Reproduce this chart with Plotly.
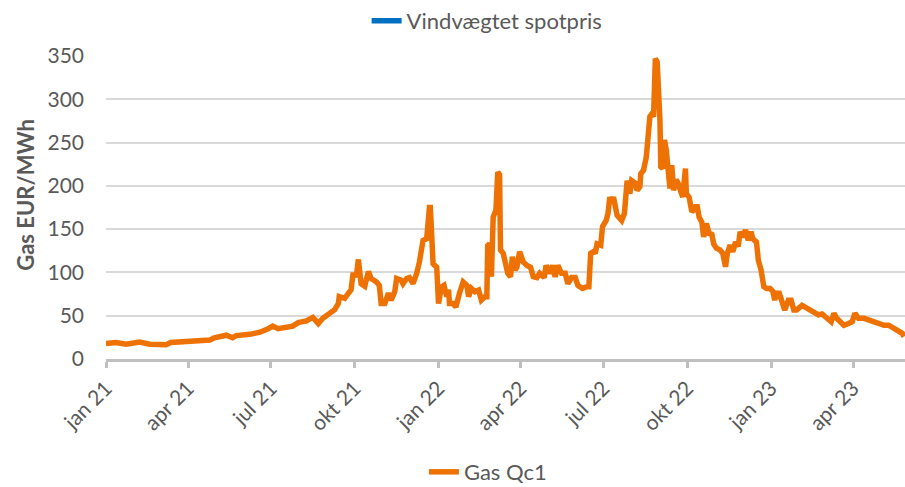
import plotly.graph_objects as go

# Gas Qc1 (EUR/MWh)
dates = [
    "2021-01-01", "2021-01-12", "2021-01-23", "2021-02-07", "2021-02-18", "2021-03-01",
    "2021-03-08", "2021-03-13", "2021-04-01", "2021-04-14", "2021-04-25", "2021-04-30",
    "2021-05-13", "2021-05-20", "2021-05-24", "2021-06-08", "2021-06-19", "2021-06-28",
    "2021-07-03", "2021-07-09", "2021-07-18", "2021-07-25", "2021-07-31", "2021-08-09",
    "2021-08-16", "2021-08-22", "2021-08-27", "2021-09-03", "2021-09-09", "2021-09-13",
    "2021-09-14", "2021-09-20", "2021-09-24", "2021-09-27", "2021-09-29", "2021-10-03",
    "2021-10-05", "2021-10-08", "2021-10-12", "2021-10-16", "2021-10-19", "2021-10-25",
    "2021-10-28", "2021-10-30", "2021-11-03", "2021-11-07", "2021-11-10", "2021-11-14",
    "2021-11-16", "2021-11-21", "2021-11-23", "2021-11-27", "2021-11-30", "2021-12-04",
    "2021-12-08", "2021-12-11", "2021-12-15", "2021-12-19", "2021-12-22", "2021-12-23",
    "2021-12-26", "2021-12-30",
    "2022-01-01", "2022-01-04", "2022-01-07", "2022-01-10", "2022-01-12", "2022-01-13",
    "2022-01-17", "2022-01-20", "2022-01-24", "2022-01-28", "2022-02-01", "2022-02-03",
    "2022-02-06", "2022-02-10", "2022-02-14", "2022-02-17", "2022-02-21", "2022-02-23",
    "2022-02-24", "2022-02-26", "2022-02-28", "2022-03-02", "2022-03-05", "2022-03-07",
    "2022-03-09", "2022-03-10", "2022-03-13", "2022-03-16", "2022-03-18", "2022-03-21",
    "2022-03-23", "2022-03-26", "2022-03-28", "2022-03-31", "2022-04-04", "2022-04-08",
    "2022-04-12", "2022-04-15", "2022-04-19", "2022-04-22", "2022-04-27", "2022-04-29",
    "2022-05-03", "2022-05-06", "2022-05-09", "2022-05-12", "2022-05-16", "2022-05-20",
    "2022-05-23", "2022-05-27", "2022-05-31", "2022-06-03", "2022-06-08", "2022-06-13",
    "2022-06-15", "2022-06-17", "2022-06-20", "2022-06-22", "2022-06-24", "2022-06-28",
    "2022-06-30", "2022-07-04", "2022-07-06", "2022-07-08", "2022-07-10", "2022-07-12",
    "2022-07-14", "2022-07-16", "2022-07-21", "2022-07-24", "2022-07-27", "2022-07-30",
    "2022-08-01", "2022-08-05", "2022-08-07", "2022-08-10", "2022-08-11", "2022-08-14",
    "2022-08-17", "2022-08-19", "2022-08-21", "2022-08-23", "2022-08-25", "2022-08-27",
    "2022-08-29", "2022-09-01", "2022-09-02", "2022-09-04", "2022-09-06", "2022-09-08",
    "2022-09-10", "2022-09-12", "2022-09-14", "2022-09-16", "2022-09-19", "2022-09-21",
    "2022-09-24", "2022-09-26", "2022-09-29", "2022-09-30", "2022-10-03", "2022-10-06",
    "2022-10-08", "2022-10-10", "2022-10-12", "2022-10-14", "2022-10-17", "2022-10-19",
    "2022-10-22", "2022-10-25", "2022-10-28", "2022-10-30", "2022-11-02", "2022-11-06",
    "2022-11-09", "2022-11-12", "2022-11-14", "2022-11-17", "2022-11-20", "2022-11-23",
    "2022-11-26", "2022-11-28", "2022-12-01", "2022-12-04", "2022-12-07", "2022-12-10",
    "2022-12-12", "2022-12-16", "2022-12-18", "2022-12-21", "2022-12-24", "2022-12-27",
    "2022-12-31",
    "2023-01-03", "2023-01-05", "2023-01-07", "2023-01-10", "2023-01-13", "2023-01-16",
    "2023-01-20", "2023-01-23", "2023-01-26", "2023-01-29", "2023-02-04", "2023-02-07",
    "2023-02-11", "2023-02-16", "2023-02-22", "2023-02-26", "2023-03-03", "2023-03-08",
    "2023-03-11", "2023-03-14", "2023-03-18", "2023-03-22", "2023-03-27", "2023-03-31",
    "2023-04-03", "2023-04-07", "2023-04-13", "2023-04-18", "2023-04-24", "2023-04-29",
    "2023-05-05", "2023-05-10", "2023-05-16", "2023-05-21", "2023-05-25", "2023-05-27",
]
gas_qc1 = [
    18, 19, 17, 19.5, 17, 16,
    16.5, 19, 20, 21, 22, 24.5,
    27.5, 24.5, 27, 28.5, 31, 35,
    38, 35, 36.5, 38, 42, 44,
    48, 41, 47, 52, 57, 64,
    72, 70, 76, 80, 97, 97,
    115, 87, 84, 101, 93, 89,
    85, 64, 64, 76, 68, 78,
    93, 91, 87, 93, 94, 87,
    99, 112, 137, 139, 175, 175,
    110, 106,
    64, 83, 85, 72, 80, 64,
    64, 60, 76, 89, 85, 72,
    81.5, 77.7, 79.6, 68, 72, 72,
    131, 133, 95, 164, 172, 216,
    213, 126, 122, 103, 99, 95,
    118, 103, 106, 124, 112, 108,
    106, 95, 94, 99, 94, 108,
    99, 108, 95, 108, 99, 99,
    87, 94, 94, 85, 81.5, 83.5,
    83.5, 122, 124, 122, 133, 131.5,
    153, 160, 168, 187, 180, 187,
    172, 166, 160, 168, 206, 191,
    206, 203, 195, 199, 214, 218,
    233, 253, 280, 283, 280, 347,
    343, 276, 222, 220, 253, 241,
    207, 197, 224, 195, 207, 203,
    193, 187, 220, 191, 187, 170,
    172, 176, 176, 164, 158, 141,
    156.5, 145, 144, 133, 128, 126,
    122, 106.5, 122, 131.5, 124, 135,
    130, 147, 141, 149, 137, 147,
    139, 135, 114, 103, 83.5, 81.5,
    81.5,
    78, 68, 76, 76, 64, 56.5,
    68, 68, 56.5, 56.5, 62, 60,
    56.5, 54.6, 51, 52, 47, 43,
    52.7, 47, 43, 39, 41, 43,
    52.7, 47, 47, 45, 43, 41,
    39, 39, 35, 33.5, 29.6, 26,
]

y_ticks = [0, 50, 100, 150, 200, 250, 300, 350]
x_tick_dates = ["2021-01-01", "2021-04-01", "2021-07-01", "2021-10-01", "2022-01-01",
                "2022-04-01", "2022-07-01", "2022-10-01", "2023-01-01", "2023-04-01"]
x_tick_labels = ["jan 21", "apr 21", "jul 21", "okt 21", "jan 22",
                 "apr 22", "jul 22", "okt 22", "jan 23", "apr 23"]
y_title = "Gas EUR/MWh"

FONT = "Lato"
TXT = "#595959"

fig = go.Figure()
fig.add_trace(go.Scatter(
    x=[None], y=[None], mode="lines", name="Vindvægtet spotpris",
    line=dict(color="#0070C0", width=5.5), legend="legend", showlegend=True,
))
fig.add_trace(go.Scatter(
    x=dates, y=gas_qc1, mode="lines", name="Gas Qc1",
    line=dict(color="#EE7203", width=5.5), legend="legend2", showlegend=True,
))

fig.update_layout(
    width=905, height=487,
    showlegend=True,
    margin=dict(l=106, r=0, t=56, b=128, autoexpand=False),
    paper_bgcolor="white", plot_bgcolor="white",
    font=dict(family=FONT, color=TXT, size=18),
    legend=dict(x=0.477, y=1.1155, xanchor="center", yanchor="middle",
                orientation="h", font=dict(size=22, color=TXT),
                bgcolor="rgba(0,0,0,0)"),
    legend2=dict(x=0.478, y=-0.373, xanchor="center", yanchor="middle",
                 orientation="h", font=dict(size=22, color=TXT),
                 bgcolor="rgba(0,0,0,0)"),
    xaxis=dict(
        type="date", range=["2021-01-01", "2023-05-28"],
        tickmode="array", tickvals=x_tick_dates, ticktext=x_tick_labels,
        tickangle=-45, tickfont=dict(size=21, color=TXT),
        showgrid=False, showline=True, linecolor="#BFBFBF", linewidth=2.5,
        ticks="outside", ticklen=6, tickcolor="#BFBFBF", tickwidth=2.5,
        zeroline=False, automargin=False,
    ),
    yaxis=dict(
        range=[0, 350], tickmode="array", tickvals=y_ticks,
        tickfont=dict(size=21, color=TXT),
        showgrid=True, gridcolor="#D9D9D9", gridwidth=1.5,
        zeroline=False, showline=False, ticks="",
        ticklabelstandoff=21, automargin=False,
    ),
    annotations=[dict(
        text="<b>" + y_title + "</b>", textangle=-90,
        xref="paper", yref="paper", x=-0.101, y=0.543,
        xanchor="center", yanchor="middle", showarrow=False,
        font=dict(size=22, color=TXT, family=FONT),
    )],
)

fig.write_html("out.html", config={"displayModeBar": False},
               post_script="document.body.style.margin='0';")
